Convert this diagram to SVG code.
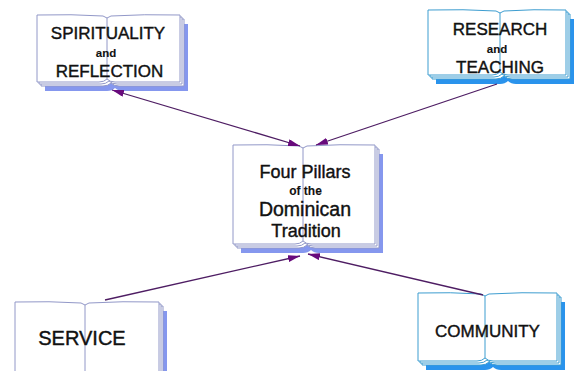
<svg xmlns="http://www.w3.org/2000/svg" xmlns:xlink="http://www.w3.org/1999/xlink" width="579" height="371" viewBox="0 0 579 371">
<style>
.lav-sh{fill:#8597ee;stroke:none}
.lav-pg{fill:#ffffff;stroke:#9298c8;stroke-width:1}
.cy-sh{fill:#2a93ec;stroke:none}
.cy-pg{fill:#ffffff;stroke:#3d9dd0;stroke-width:1}
.spine-l{stroke:#9298c8;stroke-width:1;fill:none}
.spine-c{stroke:#3d9dd0;stroke-width:1;fill:none}
.lbl{font-family:"Liberation Sans",Arial,Helvetica,sans-serif;font-size:17px;text-anchor:middle;fill:#111111;stroke:#111111;stroke-width:0.4}
.sm{font-weight:bold;font-size:11.5px;stroke-width:0.1}
.conn{stroke:#4e1d63;stroke-width:1.3;fill:none}
</style>
<defs>
<marker id="ah" viewBox="0 0 12 7" refX="12" refY="3.5" markerWidth="12" markerHeight="7" markerUnits="userSpaceOnUse" orient="auto-start-reverse">
<path d="M0,0 L12,3.5 L0,7 Z" fill="#680a7c"/>
</marker>
<path id="p-spi" d="M37,15 Q72,14 103,16 L107,18 L111,16 Q144,14 180,15 L180,82 L115,82 Q110,82 107,79 Q104,82 99,82 L37,82 Z"/>
<path id="p-res" d="M428,10 Q464,9 496,11 L500,13 L504,11 Q533,9 566,10 L566,75 L508,75 Q503,75 500,72 Q497,75 492,75 L428,75 Z"/>
<path id="p-cen" d="M233,145 Q268,144 299,146 L303,148 L307,146 Q339,144 375,145 L375,244 L311,244 Q306,244 303,241 Q300,244 295,244 L233,244 Z"/>
<path id="p-ser" d="M15,302 Q50,301 81,303 L85,305 L89,303 Q122,301 159,302 L159,385 L15,385 Z"/>
<path id="p-com" d="M418,293 Q451,292 481,294 L485,296 L489,294 Q521,292 557,293 L557,361 L493,361 Q488,361 485,358 Q482,361 477,361 L418,361 Z"/>
</defs>
<rect width="579" height="371" fill="#ffffff"/>

<g id="spirituality">
<use xlink:href="#p-spi" href="#p-spi" class="lav-sh" transform="translate(8,9)"/>
<use xlink:href="#p-spi" href="#p-spi" class="lav-pg" transform="translate(4,4)"/>
<use xlink:href="#p-spi" href="#p-spi" class="lav-pg" transform="translate(2,2)"/>
<use xlink:href="#p-spi" href="#p-spi" class="lav-pg"/>
<path class="spine-l" d="M107,18 L107,79"/>
<text class="lbl" x="108" y="39">SPIRITUALITY</text>
<text class="lbl sm" x="106" y="57">and</text>
<text class="lbl" x="109.5" y="77">REFLECTION</text>
</g>

<g id="research">
<use xlink:href="#p-res" href="#p-res" class="cy-sh" transform="translate(8,9)"/>
<use xlink:href="#p-res" href="#p-res" class="cy-pg" transform="translate(4,4)"/>
<use xlink:href="#p-res" href="#p-res" class="cy-pg" transform="translate(2,2)"/>
<use xlink:href="#p-res" href="#p-res" class="cy-pg"/>
<path class="spine-c" d="M500,13 L500,72"/>
<text class="lbl" x="500" y="35">RESEARCH</text>
<text class="lbl sm" x="497" y="53">and</text>
<text class="lbl" x="500" y="73">TEACHING</text>
</g>

<g id="center">
<use xlink:href="#p-cen" href="#p-cen" class="lav-sh" transform="translate(8,9)"/>
<use xlink:href="#p-cen" href="#p-cen" class="lav-pg" transform="translate(4,4)"/>
<use xlink:href="#p-cen" href="#p-cen" class="lav-pg" transform="translate(2,2)"/>
<use xlink:href="#p-cen" href="#p-cen" class="lav-pg"/>
<path class="spine-l" d="M303,148 L303,241"/>
<text class="lbl" x="305" y="178" style="font-size:18px">Four Pillars</text>
<text class="lbl sm" x="305.5" y="195" style="font-size:12px">of the</text>
<text class="lbl" x="305" y="216" style="font-size:19.5px">Dominican</text>
<text class="lbl" x="306" y="237" style="font-size:18px">Tradition</text>
</g>

<g id="service">
<use xlink:href="#p-ser" href="#p-ser" class="lav-sh" transform="translate(8,9)"/>
<use xlink:href="#p-ser" href="#p-ser" class="lav-pg" transform="translate(4,4)"/>
<use xlink:href="#p-ser" href="#p-ser" class="lav-pg" transform="translate(2,2)"/>
<use xlink:href="#p-ser" href="#p-ser" class="lav-pg"/>
<path class="spine-l" d="M85,305 L85,385"/>
<text class="lbl" x="82" y="345" style="font-size:20px">SERVICE</text>
</g>

<g id="community">
<use xlink:href="#p-com" href="#p-com" class="cy-sh" transform="translate(8,9)"/>
<use xlink:href="#p-com" href="#p-com" class="cy-pg" transform="translate(4,4)"/>
<use xlink:href="#p-com" href="#p-com" class="cy-pg" transform="translate(2,2)"/>
<use xlink:href="#p-com" href="#p-com" class="cy-pg"/>
<path class="spine-c" d="M485,296 L485,358"/>
<text class="lbl" x="487.5" y="337">COMMUNITY</text>
</g>

<g id="connectors">
<path class="conn" d="M112,90 L300,146" marker-start="url(#ah)" marker-end="url(#ah)"/>
<path class="conn" d="M497,84 L316,145" marker-end="url(#ah)"/>
<path class="conn" d="M105,300 L300,256" marker-end="url(#ah)"/>
<path class="conn" d="M483,295 L308,254" marker-end="url(#ah)"/>
</g>
</svg>
